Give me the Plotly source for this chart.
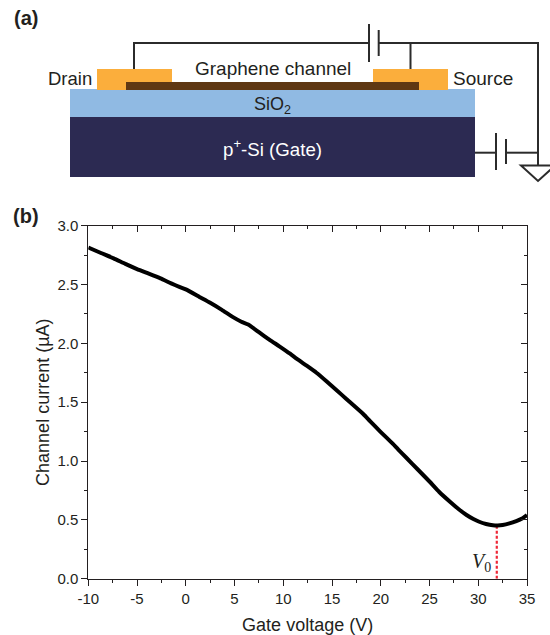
import plotly.graph_objects as go

W, H = 550, 635
L, R, T, B = 88.3, 527.0, 225.7, 578.7

# Transfer curve
gate_voltage = [-10, -8.7, -7.4, -6.2, -5, -3.8, -2.6, -1.5, -0.6, 0, 1.4, 2.5, 3.7, 4.8, 5.7, 6.4, 7.5, 8.6, 9.6, 10.7, 11.4,
                12.4, 13.4, 14.4, 15.5, 16.5, 18.2, 18.9, 19.9, 21.25, 21.8, 22.6, 23.8, 25, 26, 27.1, 28, 28.8, 29.5, 30.1,
                30.8, 31.5, 32, 32.5, 33.2, 33.9, 34.5, 35]
channel_current = [2.815, 2.768, 2.722, 2.675, 2.631, 2.592, 2.552, 2.51, 2.478, 2.459, 2.395, 2.345, 2.285, 2.225, 2.184, 2.16,
                   2.095, 2.03, 1.975, 1.912, 1.868, 1.81, 1.75, 1.68, 1.60, 1.525, 1.40, 1.34, 1.255, 1.145, 1.097, 1.03,
                   0.928, 0.826, 0.737, 0.654, 0.59, 0.541, 0.507, 0.484, 0.465, 0.454, 0.452, 0.456, 0.47, 0.49, 0.512, 0.541]
v0_x = [31.9, 31.9]
v0_y = [0.0, 0.45]

x_ticks = [-10, -5, 0, 5, 10, 15, 20, 25, 30, 35]
y_ticks = [0.0, 0.5, 1.0, 1.5, 2.0, 2.5, 3.0]
x_title = "Gate voltage (V)"
y_title = "Channel current (µA)"

INK = "#231f20"
FONT = "Liberation Sans"


def px(x):
    return x / W


def py(y):
    return 1 - y / H


fig = go.Figure()
fig.add_trace(go.Scatter(x=v0_x, y=v0_y, mode="lines", line=dict(color="#ee2737", width=2.2, dash="3px,2px"),
                         hoverinfo="skip", showlegend=False))
fig.add_trace(go.Scatter(x=gate_voltage, y=channel_current, mode="lines",
                         line=dict(color="#000000", width=4, shape="spline", smoothing=0.5),
                         showlegend=False, cliponaxis=False))
fig.add_trace(go.Scatter(x=[-10], y=[0], xaxis="x2", yaxis="y2", mode="markers", marker=dict(opacity=0),
                         hoverinfo="skip", showlegend=False))

shapes = []


def rect(x0, y0, x1, y1, color):
    shapes.append(dict(type="rect", xref="paper", yref="paper", x0=px(x0), x1=px(x1), y0=py(y0), y1=py(y1),
                       fillcolor=color, line_width=0, layer="below"))


def wire(x0, y0, x1, y1, width=2):
    shapes.append(dict(type="line", xref="paper", yref="paper", x0=px(x0), x1=px(x1), y0=py(y0), y1=py(y1),
                       line=dict(color="#2b2b2b", width=width)))


rect(70, 117, 475, 177, "#2c2a52")
rect(70, 89, 475, 117, "#90bae3")
rect(97, 69, 172, 90, "#fbae3c")
rect(373, 69, 448, 90, "#fbae3c")
rect(126, 82, 419, 90, "#5f3813")

wire(134, 69, 134, 43)
wire(133, 43, 369, 43)
wire(369, 24, 369, 62)
wire(378.7, 30, 378.7, 56)
wire(378.7, 43, 539, 43)
wire(410.5, 43, 410.5, 69)
wire(538, 42, 538, 165)
wire(475, 152.7, 496, 152.7)
wire(496, 133, 496, 170)
wire(506, 139, 506, 164)
wire(506, 152.7, 538, 152.7)
shapes.append(dict(type="path", xref="paper", yref="paper",
                   path=f"M {px(521)} {py(165.5)} L {px(555)} {py(165.5)} L {px(538)} {py(181)} Z",
                   line=dict(color="#2b2b2b", width=2), fillcolor="rgba(0,0,0,0)"))


def label(x, y, text, size=19, color="#231f20", family=FONT):
    return dict(xref="paper", yref="paper", x=px(x), y=py(y), text=text, showarrow=False,
                xanchor="center", yanchor="middle", font=dict(size=size, color=color, family=family))


annotations = [
    label(25.5, 18, "<b>(a)</b>", 20),
    label(26, 216, "<b>(b)</b>", 20),
    label(70, 78, "Drain", 18.5),
    label(483, 78, "Source", 19),
    label(272.5, 69, "Graphene channel", 19),
    label(272, 105, "SiO<sub>2</sub>", 18),
    label(272, 148, "p<sup>+</sup>-Si (Gate)", 18.7, "#ffffff"),
    label(481, 562, "<i>V</i><sub>0</sub>", 20, "#231f20", "Liberation Serif"),
]

axis_common = dict(showline=True, linecolor=INK, linewidth=1, showgrid=False, zeroline=False)
fig.update_layout(
    width=W, height=H, autosize=False,
    margin=dict(l=0, r=0, t=0, b=0, autoexpand=False),
    paper_bgcolor="white", plot_bgcolor="rgba(0,0,0,0)",
    font=dict(family=FONT, color=INK, size=15),
    showlegend=False,
    shapes=shapes,
    annotations=annotations,
    xaxis=dict(domain=[px(L), px(R)], range=[-10, 35], tickvals=x_ticks, ticktext=[str(v) for v in x_ticks],
               ticks="outside", ticklen=6, tickwidth=1, tickcolor=INK, automargin=True,
               minor=dict(dtick=2.5, tick0=-10, ticks="outside", ticklen=3, tickwidth=1, tickcolor=INK),
               title=dict(text=x_title, font=dict(size=18), standoff=13), anchor="y", **axis_common),
    yaxis=dict(domain=[py(B), py(T)], range=[0, 3], tickvals=y_ticks, ticktext=[f"{v:.1f}" for v in y_ticks],
               ticks="outside", ticklen=6, tickwidth=1, tickcolor=INK, automargin=True,
               minor=dict(dtick=0.25, tick0=0, ticks="outside", ticklen=3, tickwidth=1, tickcolor=INK),
               title=dict(text=y_title, font=dict(size=18), standoff=3), anchor="x", **axis_common),
    xaxis2=dict(domain=[px(L), px(R)], range=[-10, 35], overlaying="x", side="top", anchor="y2",
                tickvals=x_ticks, ticks="inside", ticklen=6, tickwidth=1, tickcolor=INK, showticklabels=False,
                minor=dict(dtick=2.5, tick0=-10, ticks="inside", ticklen=3, tickwidth=1, tickcolor=INK), **axis_common),
    yaxis2=dict(domain=[py(B), py(T)], range=[0, 3], overlaying="y", side="right", anchor="x2",
                tickvals=y_ticks, ticks="inside", ticklen=6, tickwidth=1, tickcolor=INK, showticklabels=False,
                minor=dict(dtick=0.25, tick0=0, ticks="inside", ticklen=3, tickwidth=1, tickcolor=INK), **axis_common),
)

fig.write_html("out.html", config={"displayModeBar": False}, post_script="document.body.style.margin='0';")
